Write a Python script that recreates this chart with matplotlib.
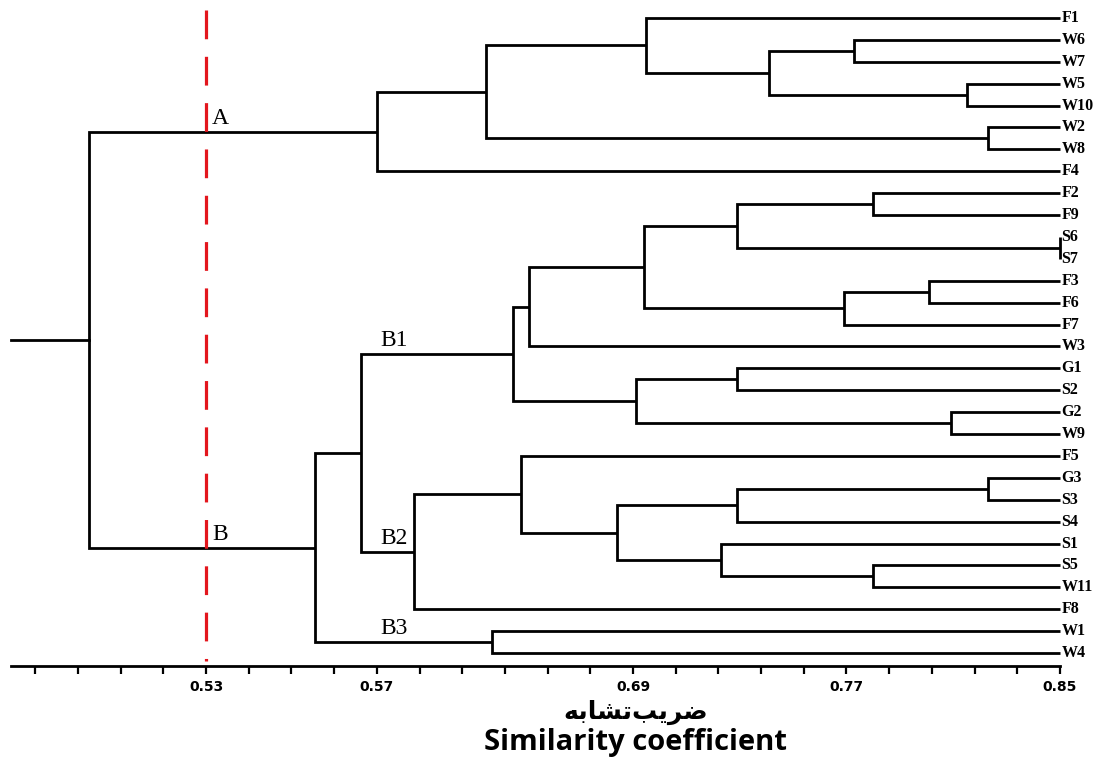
import matplotlib
matplotlib.use("Agg")
import matplotlib.pyplot as plt
import numpy as np

# leaf order, top to bottom
leaves = ["F1", "W6", "W7", "W5", "W10", "W2", "W8", "F4",
          "F2", "F9", "S6", "S7", "F3", "F6", "F7", "W3",
          "G1", "S2", "G2", "W9", "F5", "G3", "S3", "S4",
          "S1", "S5", "W11", "F8", "W1", "W4"]

# joins: a leaf name or the index of an earlier join, and the similarity level
join_a = ["W6", "W5", 0, "F1", "W2", 3, 5,
          "F2", "S6", 7, "F3", 10, 9, 12, "G1", "G2", 14, 13,
          "G3", 18, "S5", "S1", 19, "F5", 23, 17, "W1", 25, 6]
join_b = ["W7", "W10", 1, 2, "W8", 4, "F4",
          "F9", "S7", 8, "F6", "F7", 11, "W3", "S2", "W9", 15, 16,
          "S3", "S4", "W11", 20, 21, 22, "F8", 24, "W4", 26, 27]
join_sim = [0.773, 0.815, 0.741, 0.695, 0.823, 0.635, 0.594,
            0.780, 0.850, 0.729, 0.801, 0.769, 0.694, 0.651, 0.729, 0.809, 0.691, 0.645,
            0.823, 0.729, 0.780, 0.723, 0.684, 0.648, 0.608, 0.588, 0.637, 0.571, 0.486]

root_start = 0.457
cut_level = 0.53

# cluster labels: join index they sit on
group_names = ["A", "B", "B1", "B2", "B3"]
group_join = [6, 27, 17, 24, 26]
group_x = [0.5322, 0.5322, 0.5952, 0.5952, 0.5952]

tick_pos = [0.53, 0.594, 0.69, 0.77, 0.85]
tick_text = ["0.53", "0.57", "0.69", "0.77", "0.85"]

leaf_end = 0.85
LINE = "black"


def node_xy(ref, joins_y):
    if isinstance(ref, str):
        return leaf_end, leaves.index(ref)
    return join_sim[ref], joins_y[ref]


def main():
    fig = plt.figure(figsize=(11, 7.63), dpi=100)
    ax = fig.add_axes([0, 0, 1, 1])
    ax.set_xlim(0.4528, 0.865)
    ax.set_ylim(34.02, -0.822)

    joins_y = []
    for a, b, s in zip(join_a, join_b, join_sim):
        xa, ya = node_xy(a, joins_y)
        xb, yb = node_xy(b, joins_y)
        ax.plot([xa, s, s, xb], [ya, ya, yb, yb], color=LINE, lw=2,
                solid_joinstyle="miter", solid_capstyle="butt", zorder=3)
        joins_y.append((ya + yb) / 2)

    # root stem
    ax.plot([root_start, join_sim[-1]], [joins_y[-1]] * 2, color=LINE, lw=2, zorder=3)

    for i, name in enumerate(leaves):
        ax.text(leaf_end + 0.0006, i, name, ha="left", va="center",
                fontsize=11.5, fontweight="bold", family="Liberation Serif")

    for name, j, gx in zip(group_names, group_join, group_x):
        ax.annotate(name, (gx, joins_y[j]), xytext=(0, 2), textcoords="offset points",
                    ha="left", va="bottom", fontsize=17, family="Liberation Serif")

    # cut line
    ax.plot([cut_level, cut_level], [-0.36, 29.35], color="#e3161d", lw=2.3,
            linestyle=(0, (9, 5.5)), zorder=4)

    # similarity axis on the bottom spine
    for side in ["top", "right", "left"]:
        ax.spines[side].set_visible(False)
    ax.spines["bottom"].set_position(("data", 29.59))
    ax.spines["bottom"].set_linewidth(2)
    ax.spines["bottom"].set_bounds(root_start, 0.85)
    ax.set_yticks([])
    ax.set_xticks(tick_pos, tick_text)
    ax.set_xticks(np.arange(0.466, 0.851, 0.016), minor=True)
    ax.tick_params(axis="x", which="both", direction="out", length=6, width=1.6, pad=4)
    for lab in ax.get_xticklabels():
        lab.set_fontsize(10)
        lab.set_fontweight("bold")
        lab.set_family("DejaVu Sans")

    # Persian title in presentation forms, visual order (no shaping in matplotlib)
    persian = "\uFEEA\uFE91\uFE8E\uFEB8\uFE97\uFE90\uFEF3\uFEAE\uFEBF"
    ax.text(0.691, 31.7, persian, ha="center", va="center", fontsize=18,
            fontweight="bold", family=["DejaVu Sans"])
    ax.text(0.691, 33.1, "Similarity coefficient", ha="center", va="center",
            fontsize=21, fontweight="bold", family="Open Sans")

    fig.savefig("out.png", dpi=100)
    plt.close(fig)


if __name__ == "__main__":
    main()
